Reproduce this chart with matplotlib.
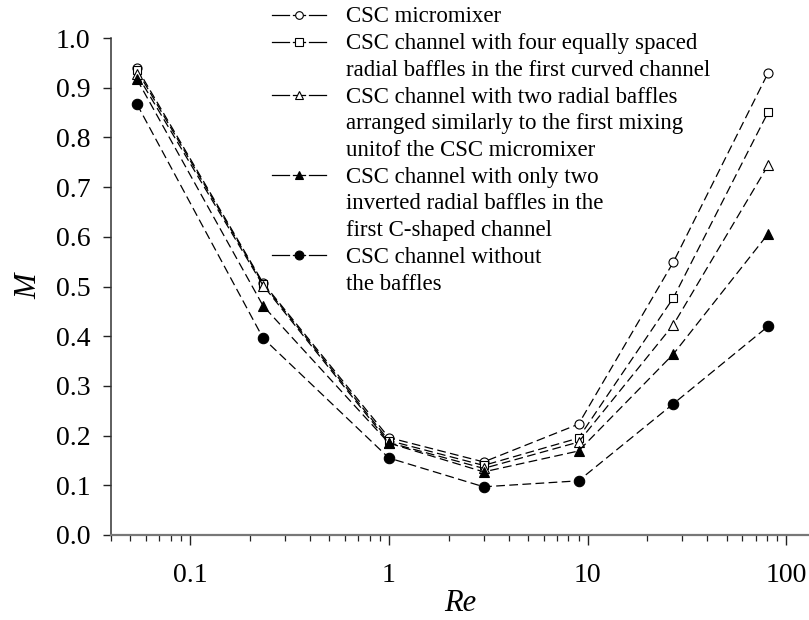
import numpy as np
import matplotlib.pyplot as plt
from matplotlib.lines import Line2D
from matplotlib.ticker import LogLocator, NullFormatter

# Reynolds numbers and mixing index for each configuration
re = [0.054, 0.233, 1, 3, 9, 27, 81]
m_micromixer = [0.940, 0.507, 0.196, 0.147, 0.223, 0.549, 0.930]
m_four_baffles = [0.935, 0.505, 0.190, 0.140, 0.195, 0.477, 0.851]
m_two_baffles = [0.927, 0.502, 0.186, 0.134, 0.187, 0.423, 0.744]
m_inverted = [0.917, 0.461, 0.185, 0.127, 0.169, 0.364, 0.606]
m_no_baffles = [0.867, 0.396, 0.155, 0.097, 0.109, 0.264, 0.420]

labels = ['CSC micromixer',
          'CSC channel with four equally spaced\nradial baffles in the first curved channel',
          'CSC channel with two radial baffles\narranged similarly to the first mixing\nunitof the CSC micromixer',
          'CSC channel with only two\ninverted radial baffles in the\nfirst C-shaped channel',
          'CSC channel without\nthe baffles']

series = [m_micromixer, m_four_baffles, m_two_baffles, m_inverted, m_no_baffles]
markers = ['o', 's', '^', '^', 'o']
fills = ['white', 'white', 'white', 'black', 'black']
sizes = [6.5, 6.0, 6.5, 7.5, 7.5]

plt.rcParams['font.family'] = ['Liberation Serif', 'DejaVu Serif']

W, H = 809, 620
fig = plt.figure(figsize=(W / 100, H / 100), dpi=100)
ax = fig.add_axes([111 / W, 1 - 535 / H, 1 - 111 / W, (535 - 38) / H])

dash = (0, (7, 3.5))
for y, mk, fc, ms in zip(series, markers, fills, sizes):
    ax.plot(re, y, linestyle=dash, color='black', lw=0.9,
            marker=mk, markersize=ms, markerfacecolor=fc,
            markeredgecolor='black', markeredgewidth=0.8, clip_on=False)

ax.set_xscale('log')
ax.set_xlim(0.04, 130)
ax.set_ylim(0, 1.0)
ax.set_yticks(np.arange(0, 1.01, 0.1))
ax.set_yticklabels(['%.1f' % v for v in np.arange(0, 1.01, 0.1)])
ax.set_xticks([0.1, 1, 10, 100])
ax.set_xticklabels(['0.1', '1', '10', '100'])
ax.xaxis.set_minor_locator(LogLocator(base=10, subs=np.arange(2, 10)))
ax.xaxis.set_minor_formatter(NullFormatter())

for s in ['top', 'right']:
    ax.spines[s].set_visible(False)
ax.spines['left'].set_color('#333333')
ax.spines['left'].set_linewidth(1.1)
ax.spines['bottom'].set_color('#777777')
ax.spines['bottom'].set_linewidth(1.6)

ax.tick_params(axis='both', which='major', direction='out', labelsize=20,
               color='#222222', width=1.0)
ax.tick_params(axis='x', which='major', length=7, pad=13)
ax.tick_params(axis='x', which='minor', length=4, width=0.9, color='#222222')
ax.tick_params(axis='y', which='major', length=6, pad=9)

ax.set_xlabel('Re', fontsize=22, style='italic', labelpad=1)
ax.set_ylabel('M', fontsize=22, style='italic', labelpad=9)

# manual legend, handle level with the first line of each label
def fx(px):
    return px / W

def fy(py):
    return 1 - py / H

line_h = 26.7
k = 0
for lab, mk, fc, ms in zip(labels, markers, fills, sizes):
    yc = 15 + k * line_h
    for x0, x1 in [(272, 289), (293, 305), (309, 326)]:
        fig.add_artist(Line2D([fx(x0), fx(x1)], [fy(yc), fy(yc)],
                              transform=fig.transFigure, color='black', lw=0.9))
    fig.add_artist(Line2D([fx(299)], [fy(yc)], transform=fig.transFigure,
                          marker=mk, markersize=ms * 0.85, markerfacecolor=fc,
                          markeredgecolor='black', markeredgewidth=0.8,
                          linestyle='none'))
    for line in lab.split('\n'):
        yc = 15 + k * line_h
        fig.text(fx(346), fy(yc + 7.5), line, fontsize=16.5, va='baseline',
                 ha='left', transform=fig.transFigure)
        k += 1

fig.savefig('out.png', dpi=100)
